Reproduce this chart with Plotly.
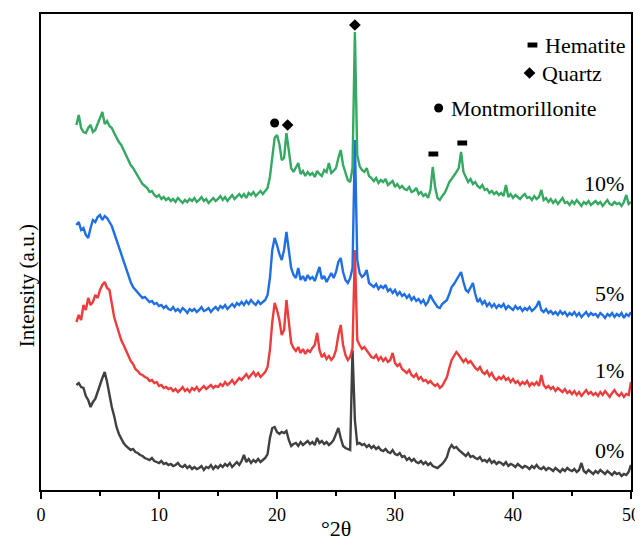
import numpy as np
import plotly.graph_objects as go

# 2-theta sampling grid (degrees), 3.0 .. 50.0 step 0.2
two_theta = np.round(np.arange(3.0, 50.0001, 0.2), 1)

# Offset intensities (a.u.)
i10 = [
    365, 375, 362, 358, 357, 362, 365, 358, 360, 366,
    370, 378, 366, 369, 364, 362, 357, 352, 348, 345,
    340, 335, 331, 325, 322, 318, 314, 309, 306, 304,
    302, 298, 299, 295, 293, 295, 291, 293, 290, 292,
    289, 291, 288, 292, 289, 287, 290, 288, 291, 289,
    292, 288, 290, 293, 289, 291, 287, 290, 292, 289,
    291, 294, 290, 293, 289, 292, 295, 291, 294, 296,
    293, 296, 292, 297, 295, 298, 294, 297, 299, 296,
    299, 302, 313, 335, 352, 355, 346, 330, 332, 357,
    340, 322, 318, 322, 327, 316, 319, 314, 318, 315,
    317, 313, 319, 316, 314, 320, 318, 327, 317, 319,
    322, 332, 340, 325, 318, 310, 308, 322, 458, 335,
    324, 320, 318, 322, 314, 312, 309, 312, 307, 310,
    308, 311, 305, 307, 309, 303, 306, 302, 304, 301,
    300, 303, 298, 299, 302, 296, 298, 294, 296, 292,
    300, 323, 303, 292, 290, 294, 297, 302, 308, 311,
    314, 318, 322, 338, 318, 312, 308, 311, 306, 308,
    304, 302, 305, 300, 301, 297, 299, 296, 298, 295,
    297, 294, 305, 293, 296, 292, 295, 293, 291, 294,
    296, 292, 293, 290, 294, 291, 293, 300, 290, 292,
    288, 291, 287, 290, 286, 289, 292, 287, 288, 285,
    289, 286, 290, 287, 284, 288, 286, 289, 285, 287,
    289, 286, 288, 284, 287, 290, 286, 285, 288, 286,
    287, 284, 288, 295, 286, 288,
]
i5 = [
    265, 268, 260, 262, 255, 252, 262, 270, 268, 273,
    275, 270, 274, 272, 268, 264, 257, 250, 242, 235,
    228, 220, 214, 208, 203, 200, 197, 195, 192, 193,
    190, 188, 189, 186, 187, 184, 185, 182, 184, 181,
    180, 183, 179, 181, 178, 182, 180, 177, 181, 179,
    181, 178, 180, 183, 179, 180, 182, 178, 181, 183,
    180, 184, 182, 185, 181, 184, 186, 183, 187, 185,
    188, 185, 189, 186, 190, 187, 185, 189, 186, 188,
    190, 195, 212, 240, 252, 245, 236, 230, 240, 258,
    238, 222, 215, 212, 222, 210, 214, 209, 215, 211,
    213, 209, 216, 223, 211, 214, 208, 213, 217, 212,
    218, 228, 232, 218, 210, 207, 212, 222, 350, 230,
    217, 213, 215, 220, 207, 205, 203, 206, 201, 204,
    202, 205, 199, 201, 197, 200, 195, 198, 194, 196,
    192, 195, 190, 193, 189, 191, 187, 190, 185, 188,
    195, 190, 186, 183, 182, 186, 188, 190, 196, 203,
    206, 210, 213, 218, 208, 200, 198, 202, 207, 196,
    188, 191, 186, 189, 184, 187, 183, 186, 182, 185,
    183, 186, 181, 184, 182, 180, 184, 181, 183, 179,
    182, 180, 183, 179, 181, 184, 189, 180, 178, 181,
    177, 179, 176, 178, 175, 179, 176, 178, 174, 177,
    175, 178, 174, 177, 173, 176, 178, 174, 177, 175,
    176, 173, 177, 175, 172, 176, 174, 177, 173, 176,
    174, 177, 172, 176, 174, 178,
]
i1 = [
    168, 175, 170, 185, 180, 192, 185, 188, 195, 192,
    200, 205, 208, 202, 200, 185, 173, 165, 157, 150,
    145, 140, 135, 129, 126, 121, 119, 116, 115, 113,
    112, 109, 110, 107, 108, 104, 105, 102, 103, 101,
    102, 99, 101, 98, 100, 103, 99, 101, 98, 102,
    100, 103, 99, 102, 104, 101, 103, 105, 102, 104,
    103, 106, 104, 108, 105, 107, 110, 106, 109, 112,
    110, 113, 116, 112, 115, 118, 114, 117, 113, 116,
    118, 123, 140, 168, 187, 180, 170, 155, 160, 190,
    165, 147, 142, 139, 143, 137, 141, 136, 140, 138,
    142, 145, 157, 140, 133, 136, 131, 134, 130, 133,
    140, 155, 165, 145, 135, 130, 133, 142, 240, 150,
    145, 141, 143, 140, 136, 133, 132, 135, 130, 133,
    129, 132, 128, 130, 137, 127, 124, 126, 121, 119,
    117, 120, 115, 113, 116, 111, 113, 109, 110, 107,
    109, 106, 104, 106, 102, 104, 108, 113, 122, 130,
    134, 138, 135, 131, 128, 131, 127, 129, 125, 122,
    120, 123, 118, 116, 119, 114, 117, 112, 110, 113,
    111, 114, 110, 112, 108, 111, 107, 109, 105, 108,
    106, 109, 104, 107, 105, 108, 104, 115, 105, 102,
    104, 101, 103, 99, 102, 100, 98, 101, 97, 99,
    96, 99, 95, 98, 94, 97, 100, 96, 98, 95,
    97, 94, 98, 95, 99, 96, 93, 97, 100, 96,
    94, 97, 93, 96, 95, 108,
]
i0 = [
    105, 107, 103, 102, 94, 90, 83, 88, 91, 97,
    105, 112, 118, 108, 95, 83, 74, 63, 56, 51,
    47, 44, 42, 40, 41, 38, 37, 35, 34, 32,
    31, 30, 32, 29, 28, 27, 29, 26, 27, 25,
    26, 24, 25, 27, 24, 23, 25, 22, 24, 21,
    23, 21, 22, 24, 20, 23, 22, 25, 21, 24,
    22, 25, 23, 26, 24, 27, 23, 26, 28, 25,
    29, 35, 28, 31, 27, 30, 28, 31, 28, 30,
    32, 36, 52, 62, 63, 58, 56, 58, 57, 59,
    50, 44, 46, 47, 44, 48, 45, 47, 49, 46,
    48, 45, 52, 47, 49, 46, 48, 45, 47, 50,
    56, 62, 52, 44, 42, 41, 40, 140, 70, 46,
    47, 45, 46, 43, 45, 42, 44, 41, 43, 40,
    39, 41, 38, 37, 40, 36, 35, 37, 33, 34,
    30, 32, 29, 31, 28, 27, 29, 26, 28, 25,
    27, 24, 23, 22, 24, 26, 29, 33, 41, 45,
    42, 43, 40, 38, 36, 34, 37, 33, 34, 32,
    31, 33, 29, 30, 28, 31, 27, 29, 26, 28,
    27, 25, 28, 24, 26, 25, 23, 26, 24, 22,
    24, 23, 21, 24, 22, 25, 22, 21, 23, 20,
    22, 21, 19, 22, 20, 18, 21, 19, 22, 20,
    19, 21, 18, 20, 27, 19, 17, 20, 18, 16,
    19, 17, 20, 18, 16, 19, 17, 15, 18, 16,
    17, 14, 16, 15, 18, 25,
]

series_names = ["0%", "1%", "5%", "10%"]
series_values = [i0, i1, i5, i10]
series_colors = ["#404040", "#ee3b3b", "#1f6fe3", "#35a862"]
label_y = [40, 120, 197, 307]

FONT = "Liberation Serif, Times New Roman, serif"

fig = go.Figure()
for name, vals, col in zip(series_names, series_values, series_colors):
    fig.add_trace(go.Scatter(x=two_theta, y=vals, mode="lines", name=name,
                             line=dict(color=col, width=2.4), showlegend=False,
                             hoverinfo="skip"))

# phase markers on peaks
fig.add_trace(go.Scatter(x=[26.6, 20.9], y=[465, 365], mode="markers",
                         marker=dict(symbol="diamond", size=9, color="black"),
                         showlegend=False, hoverinfo="skip"))
fig.add_trace(go.Scatter(x=[19.8], y=[367], mode="markers",
                         marker=dict(symbol="circle", size=9, color="black"),
                         showlegend=False, hoverinfo="skip"))
fig.add_trace(go.Scatter(x=[33.25, 35.7], y=[336, 347], mode="markers",
                         marker=dict(symbol="line-ew", size=7,
                                     line=dict(width=5, color="black")),
                         showlegend=False, hoverinfo="skip"))
# key symbols
fig.add_trace(go.Scatter(x=[41.65], y=[445], mode="markers",
                         marker=dict(symbol="line-ew", size=7,
                                     line=dict(width=5, color="black")),
                         showlegend=False, hoverinfo="skip"))
fig.add_trace(go.Scatter(x=[41.4], y=[417], mode="markers",
                         marker=dict(symbol="diamond", size=9, color="black"),
                         showlegend=False, hoverinfo="skip"))
fig.add_trace(go.Scatter(x=[33.7], y=[382], mode="markers",
                         marker=dict(symbol="circle", size=9, color="black"),
                         showlegend=False, hoverinfo="skip"))

annos = []
for txt, x, y in [("Hematite", 42.5, 445), ("Quartz", 42.3, 417),
                  ("Montmorillonite", 34.6, 382)]:
    annos.append(dict(x=x, y=y, text=txt, showarrow=False, xanchor="left",
                      yanchor="middle", font=dict(family=FONT, size=22, color="black")))
for name, y in zip(series_names, label_y):
    annos.append(dict(x=49.6, y=y, text=name, showarrow=False, xanchor="right",
                      yanchor="middle", font=dict(family=FONT, size=22, color="black")))
# axis titles
annos.append(dict(xref="paper", yref="paper", x=0.5, y=-0.05, text="°2θ",
                  showarrow=False, xanchor="center", yanchor="top",
                  font=dict(family=FONT, size=22, color="black")))
annos.append(dict(xref="paper", yref="paper", x=-0.024, y=0.43,
                  text="Intensity (a.u.)", textangle=-90, showarrow=False,
                  xanchor="center", yanchor="middle",
                  font=dict(family=FONT, size=21, color="black")))

# page body has an 8px margin; figure sized so the plot frame lands at
# x 41..631, y 14..490 in the 643x542 window
fig.update_layout(
    width=635, height=534,
    margin=dict(l=33, r=12, t=6, b=52),
    paper_bgcolor="white", plot_bgcolor="white",
    font=dict(family=FONT, size=18, color="black"),
    annotations=annos,
)
fig.update_xaxes(range=[0, 50], tickmode="linear", tick0=0, dtick=10,
                 ticks="outside", ticklen=7, tickwidth=2, tickcolor="black",
                 minor=dict(ticks="outside", dtick=5, ticklen=4, tickwidth=2,
                            tickcolor="black"),
                 showline=True, linewidth=2, linecolor="black", mirror=True,
                 showgrid=False, zeroline=False,
                 tickfont=dict(family=FONT, size=18),
                 automargin=False)
fig.update_yaxes(range=[0, 476], showticklabels=False, ticks="",
                 showline=True, linewidth=2, linecolor="black", mirror=True,
                 showgrid=False, zeroline=False,
                 automargin=False)

fig.write_html("out.html")
